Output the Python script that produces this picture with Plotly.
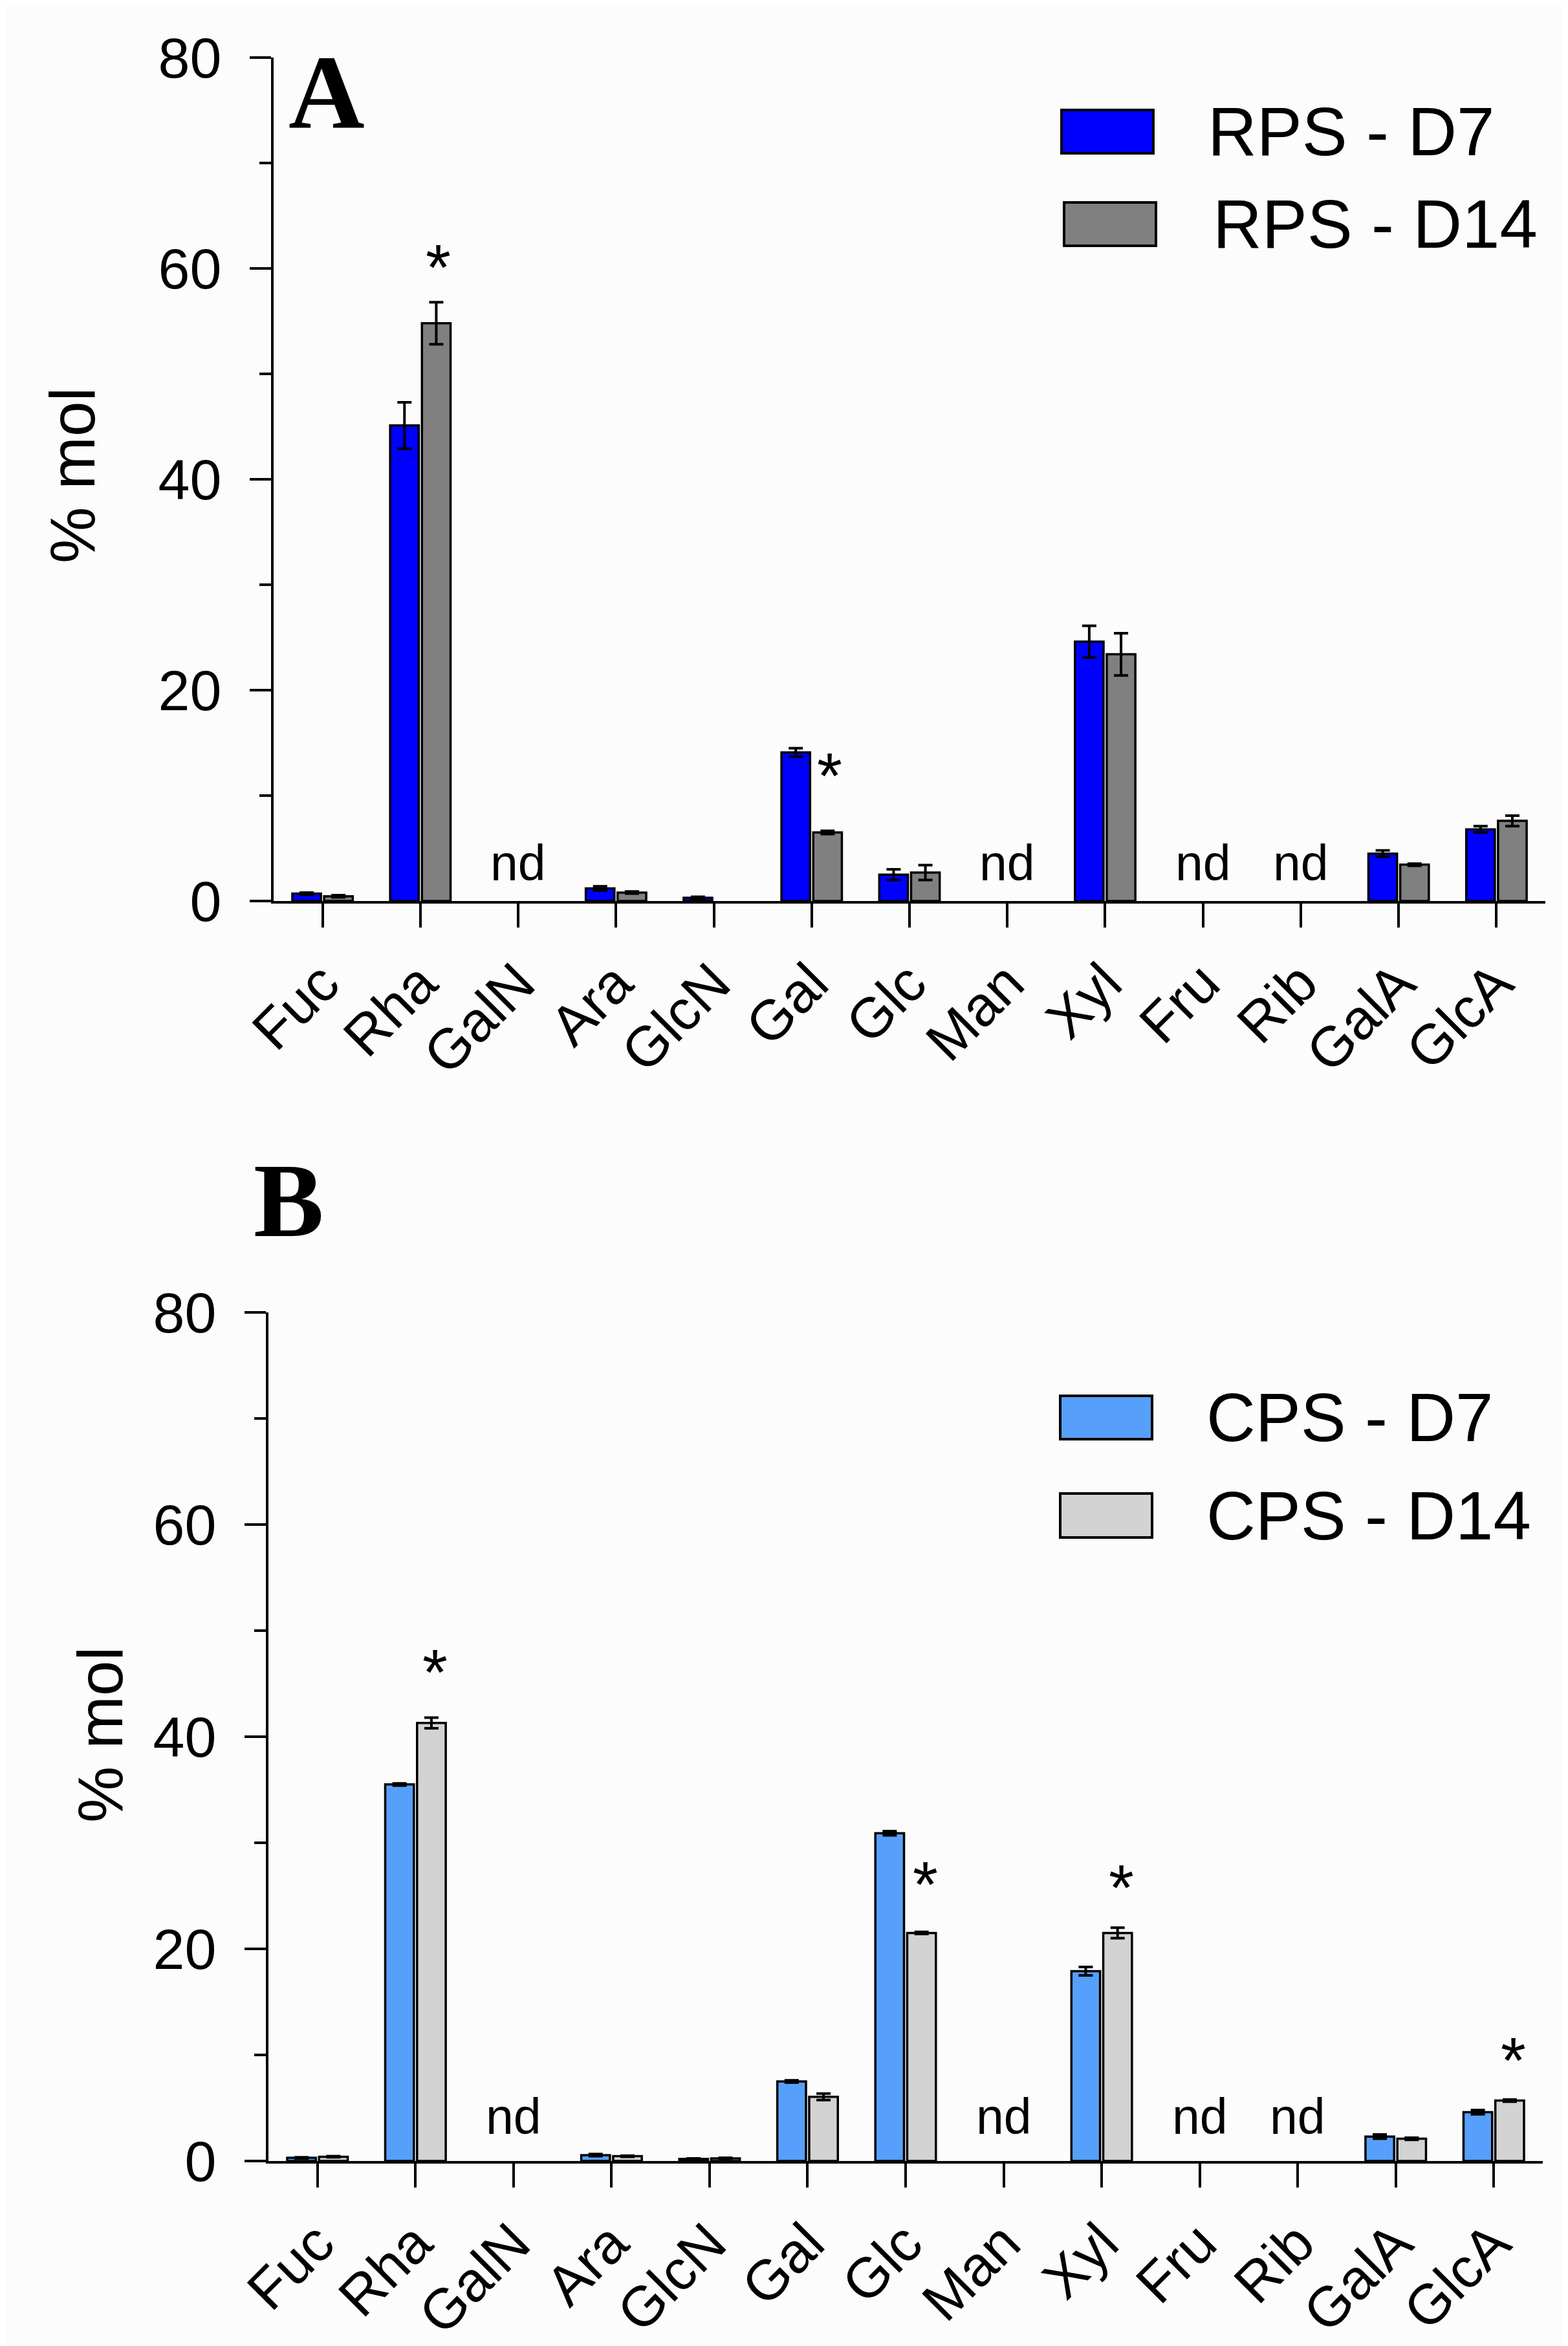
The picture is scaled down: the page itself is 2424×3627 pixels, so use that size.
import plotly.graph_objects as go

W, H = 2424, 3627

sugars = ['Fuc', 'Rha', 'GalN', 'Ara', 'GlcN', 'Gal', 'Glc', 'Man', 'Xyl', 'Fru', 'Rib', 'GalA', 'GlcA']

# panel A - RPS (% mol)
rps_d7 = [0.7, 45.1, None, 1.2, 0.3, 14.1, 2.5, None, 24.6, None, None, 4.5, 6.8]
rps_d7_err = [0.1, 2.2, 0, 0.2, 0.1, 0.4, 0.5, 0, 1.5, 0, 0, 0.3, 0.3]
rps_d14 = [0.45, 54.8, None, 0.8, None, 6.5, 2.7, None, 23.4, None, None, 3.45, 7.6]
rps_d14_err = [0.1, 2.0, 0, 0.1, 0, 0.15, 0.7, 0, 2.0, 0, 0, 0.1, 0.5]

# panel B - CPS (% mol)
cps_d7 = [0.3, 35.5, None, 0.55, 0.2, 7.5, 30.9, None, 17.9, None, None, 2.3, 4.6]
cps_d7_err = [0.05, 0.1, 0, 0.1, 0.05, 0.1, 0.2, 0, 0.4, 0, 0, 0.2, 0.2]
cps_d14 = [0.4, 41.3, None, 0.45, 0.25, 6.05, 21.5, None, 21.5, None, None, 2.1, 5.7]
cps_d14_err = [0.05, 0.5, 0, 0.05, 0.05, 0.3, 0.1, 0, 0.5, 0, 0, 0.1, 0.1]

nd_sugars = ['GalN', 'Man', 'Fru', 'Rib']

# significance stars (sugar, height of star)
stars_a = [('Rha', 60.6), ('Gal', 12.4)]
stars_b = [('Rha', 46.6), ('Glc', 26.6), ('Xyl', 26.3), ('GlcA', 10.0)]

FONT = 'Liberation Sans'


def px(x):
    return x / W


def py(y):
    return 1 - y / H


def bar(name, vals, errs, color, xa, ya):
    return go.Bar(
        x=sugars, y=vals, name=name, xaxis=xa, yaxis=ya,
        marker=dict(color=color, line=dict(color='black', width=3.5)),
        error_y=dict(type='data', array=errs, color='black', thickness=4, width=11),
        showlegend=False,
    )


data = [
    bar('RPS - D7', rps_d7, rps_d7_err, '#0000ff', 'x', 'y'),
    bar('RPS - D14', rps_d14, rps_d14_err, '#808080', 'x', 'y'),
    bar('CPS - D7', cps_d7, cps_d7_err, '#56a0fb', 'x2', 'y2'),
    bar('CPS - D14', cps_d14, cps_d14_err, '#d3d3d3', 'x2', 'y2'),
]

xax = dict(type='category', range=[-0.5, 12.5], showline=True, linewidth=4, linecolor='black',
           ticks='outside', ticklen=37, tickwidth=4, tickcolor='black', tickangle=-45, automargin=False,
           tickfont=dict(family=FONT, size=87, color='black'), showgrid=False, zeroline=False)
yax = dict(range=[0, 80], dtick=20, tick0=0, showline=True, linewidth=4, linecolor='black', automargin=False,
           ticks='outside', ticklen=33, tickwidth=4, tickcolor='black', ticklabelstandoff=26,
           minor=dict(ticks='outside', ticklen=18, tickwidth=4, tickcolor='black', dtick=10, tick0=0, showgrid=False),
           tickfont=dict(family=FONT, size=88, color='black'), showgrid=False, zeroline=False)

layout = go.Layout(
    width=W, height=H,
    margin=dict(l=0, r=0, t=0, b=0, autoexpand=False),
    paper_bgcolor='#fcfcfc', plot_bgcolor='#fcfcfc',
    barmode='group', bargap=0.35, bargroupgap=0.1,
    xaxis=dict(xax, domain=[px(415), px(2381)], anchor='y'),
    yaxis=dict(yax, domain=[py(1385), py(81)], anchor='x'),
    xaxis2=dict(xax, domain=[px(407), px(2377)], anchor='y2'),
    yaxis2=dict(yax, domain=[py(3333), py(2021)], anchor='x2'),
)

fig = go.Figure(data=data, layout=layout)

ann = []
shapes = []


def paper_text(text, x, y, size, family=FONT, angle=0, xanchor='center'):
    return dict(text=text, x=px(x), y=py(y), xref='paper', yref='paper', showarrow=False,
                xanchor=xanchor, yanchor='middle', textangle=angle,
                font=dict(family=family, size=size, color='black'))


# panel letters
ann.append(paper_text('<b>A</b>', 497, 135, 163, family='Liberation Serif'))
ann.append(paper_text('<b>B</b>', 438, 1848, 163, family='Liberation Serif'))

# y titles
ann.append(paper_text('% mol', 104, 727, 98, angle=-90))
ann.append(paper_text('% mol', 147, 2674, 98, angle=-90))

# nd labels
for s in nd_sugars:
    ann.append(dict(text='nd', x=s, y=3.6, xref='x', yref='y', showarrow=False,
                    font=dict(family=FONT, size=77, color='black')))
    ann.append(dict(text='nd', x=s, y=4.2, xref='x2', yref='y2', showarrow=False,
                    font=dict(family=FONT, size=77, color='black')))

# stars
for s, h in stars_a:
    ann.append(dict(text='*', x=s, y=h, xref='x', yref='y', showarrow=False, xshift=28, yshift=-8,
                    font=dict(family=FONT, size=100, color='black')))
for s, h in stars_b:
    ann.append(dict(text='*', x=s, y=h, xref='x2', yref='y2', showarrow=False, xshift=30, yshift=-8,
                    font=dict(family=FONT, size=100, color='black')))

# legends drawn by hand (big swatches)
legend_items = [
    ('RPS - D7', '#0000ff', 1633, 162, 229, 1857),
    ('RPS - D14', '#808080', 1637, 305, 372, 1865),
    ('CPS - D7', '#56a0fb', 1631, 2150, 2217, 1855),
    ('CPS - D14', '#d3d3d3', 1631, 2301, 2369, 1855),
]
for name, col, x0, y0, y1, tx in legend_items:
    shapes.append(dict(type='rect', xref='paper', yref='paper', x0=px(x0), x1=px(x0 + 142),
                       y0=py(y1), y1=py(y0), fillcolor=col, line=dict(color='black', width=4)))
    ann.append(paper_text(name, tx, (y0 + y1) / 2, 105, xanchor='left'))

fig.update_layout(annotations=ann, shapes=shapes)
fig.write_html("out.html")
